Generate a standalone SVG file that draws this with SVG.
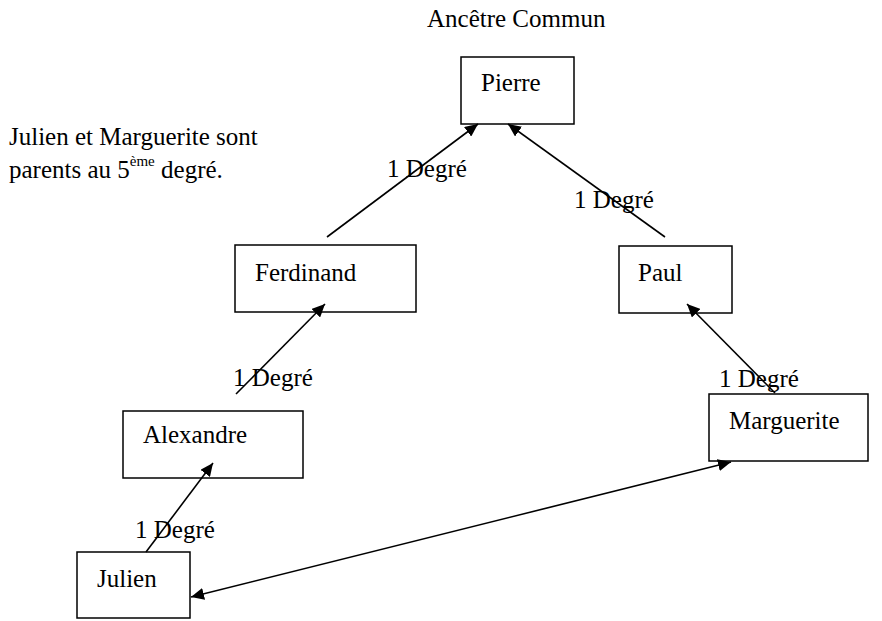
<svg xmlns="http://www.w3.org/2000/svg" width="882" height="621" viewBox="0 0 882 621">
<style>
text{font-family:"Liberation Serif","Times New Roman",serif;font-size:25px;fill:#000}
.box rect{fill:#fff;stroke:#000;stroke-width:1.5}
.edges line{stroke:#000;stroke-width:1.6}
</style>
<defs>
<marker id="ah" markerUnits="userSpaceOnUse" markerWidth="14" markerHeight="12" refX="13" refY="6" orient="auto-start-reverse">
<path d="M0,0 L13,6 L0,12 z" fill="#000"/>
</marker>
</defs>
<rect width="882" height="621" fill="#fff"/>
<text x="427" y="27">Ancêtre Commun</text>
<text x="9" y="145">Julien et Marguerite sont</text>
<text x="9" y="178">parents au 5<tspan dy="-12" font-size="15">ème</tspan><tspan dy="12"> degré.</tspan></text>
<g id="pierre" class="box"><rect x="461" y="57" width="113" height="67"/><text x="481" y="91">Pierre</text></g>
<g id="ferdinand" class="box"><rect x="235" y="245" width="181" height="67"/><text x="255" y="281">Ferdinand</text></g>
<g id="paul" class="box"><rect x="619" y="246" width="113" height="67"/><text x="638" y="281">Paul</text></g>
<g id="alexandre" class="box"><rect x="123" y="411" width="180" height="67"/><text x="143" y="443">Alexandre</text></g>
<g id="marguerite" class="box"><rect x="709" y="394" width="159" height="67"/><text x="729" y="429">Marguerite</text></g>
<g id="julien" class="box"><rect x="77" y="552" width="113" height="66"/><text x="97" y="587">Julien</text></g>
<g id="connectors" class="edges">
<line x1="327" y1="237" x2="478" y2="124" marker-end="url(#ah)"/>
<line x1="665" y1="237" x2="508" y2="124" marker-end="url(#ah)"/>
<line x1="236" y1="394" x2="325" y2="304" marker-end="url(#ah)"/>
<line x1="775" y1="393" x2="687" y2="304" marker-end="url(#ah)"/>
<line x1="146" y1="552" x2="213" y2="463" marker-end="url(#ah)"/>
<line x1="191" y1="597" x2="731" y2="462" marker-start="url(#ah)" marker-end="url(#ah)"/>
</g>
<g id="labels">
<text x="387" y="177">1 Degré</text>
<text x="574" y="208">1 Degré</text>
<text x="233" y="386">1 Degré</text>
<text x="719" y="387">1 Degré</text>
<text x="135" y="538">1 Degré</text>
</g>
</svg>
